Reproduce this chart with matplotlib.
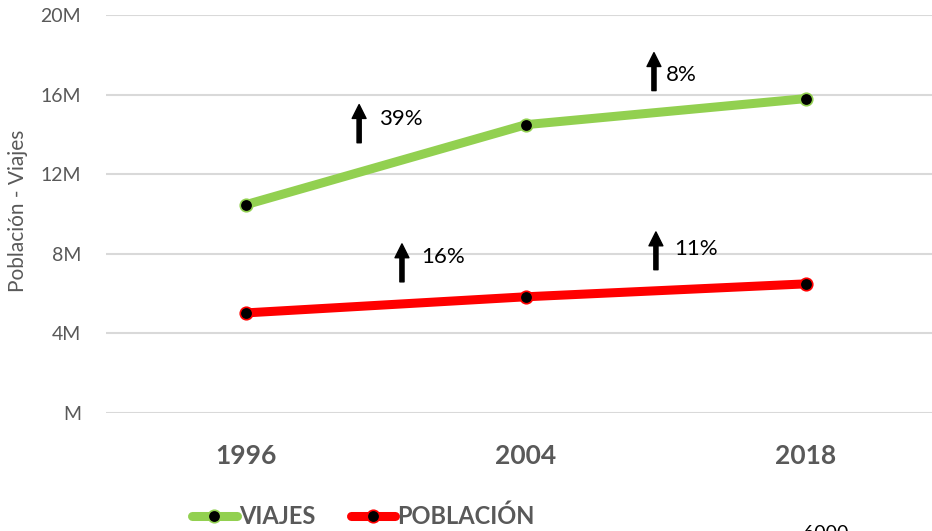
import matplotlib
matplotlib.use("Agg")
import matplotlib.pyplot as plt

plt.rcParams['font.family'] = ['Lato', 'DejaVu Sans']

years = ['1996', '2004', '2018']
viajes = [10.47, 14.49, 15.80]      # millones
poblacion = [5.03, 5.84, 6.49]      # millones
yticks = [0, 4, 8, 12, 16, 20]
ytick_labels = ['M', '4M', '8M', '12M', '16M', '20M']

# etiquetas de crecimiento
pct_labels = ['39%', '8%', '16%', '11%']
# posicion de las flechas (x, y base, y punta) y del texto (x, y)
arrow_x = [0.404, 1.457, 0.557, 1.464]
arrow_y0 = [13.58, 16.2, 6.59, 7.2]
arrow_y1 = [15.5, 18.11, 8.5, 9.1]
text_x = [0.475, 1.50, 0.625, 1.529]
text_y = [14.79, 17.0, 7.85, 8.25]

GREEN = '#92D050'
RED = '#FF0000'
GRAY = '#595959'

fig = plt.figure(figsize=(9.32, 5.31), dpi=100)
W, H = 932, 531
ax = fig.add_axes([106 / W, 118 / H, 840 / W, 398 / H])

x = list(range(len(years)))
ax.plot(x, viajes, color=GREEN, lw=6.5, marker='o', ms=9,
        mfc='black', mec=GREEN, mew=1.2, label='VIAJES', solid_capstyle='round')
ax.plot(x, poblacion, color=RED, lw=6.5, marker='o', ms=9,
        mfc='black', mec=RED, mew=1.2, label='POBLACIÓN', solid_capstyle='round')

for lab, ax_, y0, y1, tx, ty in zip(pct_labels, arrow_x, arrow_y0, arrow_y1, text_x, text_y):
    ax.annotate('', xy=(ax_, y1), xytext=(ax_, y0),
                arrowprops=dict(arrowstyle='simple,head_length=1.0,head_width=1.0,tail_width=0.3',
                                color='black', mutation_scale=10, shrinkA=0, shrinkB=0))
    ax.text(tx, ty, lab, fontsize=16, color='black', ha='left', va='center')

ax.set_xlim(-0.5, 2.5)
ax.set_ylim(0, 20)
ax.set_yticks(yticks)
ax.set_yticklabels(ytick_labels)
ax.set_xticks(x)
ax.set_xticklabels(years, fontsize=19, fontweight='bold', color=GRAY)
ax.tick_params(axis='y', length=0, pad=18, labelsize=14, labelcolor=GRAY)
ax.tick_params(axis='x', length=0, pad=22)
ax.grid(axis='y', color='#D9D9D9', lw=1.5)
ax.set_axisbelow(True)
for s in ax.spines.values():
    s.set_visible(False)

fig.text(18 / W, 1 - 211 / H, 'Población - Viajes', rotation=90, fontsize=15,
         color=GRAY, ha='center', va='center')

leg = fig.legend(loc='upper left', bbox_to_anchor=(192 / W, 1 - 505 / H),
                 ncol=2, frameon=False, borderpad=0, borderaxespad=0,
                 handlelength=1.9, handletextpad=0.08, columnspacing=1.5,
                 prop={'weight': 'bold', 'size': 17})
for t in leg.get_texts():
    t.set_color(GRAY)

fig.text(803 / W, 6 / H, '6000', fontsize=14, color='black', ha='left', va='top')

fig.savefig('out.png', dpi=100)
